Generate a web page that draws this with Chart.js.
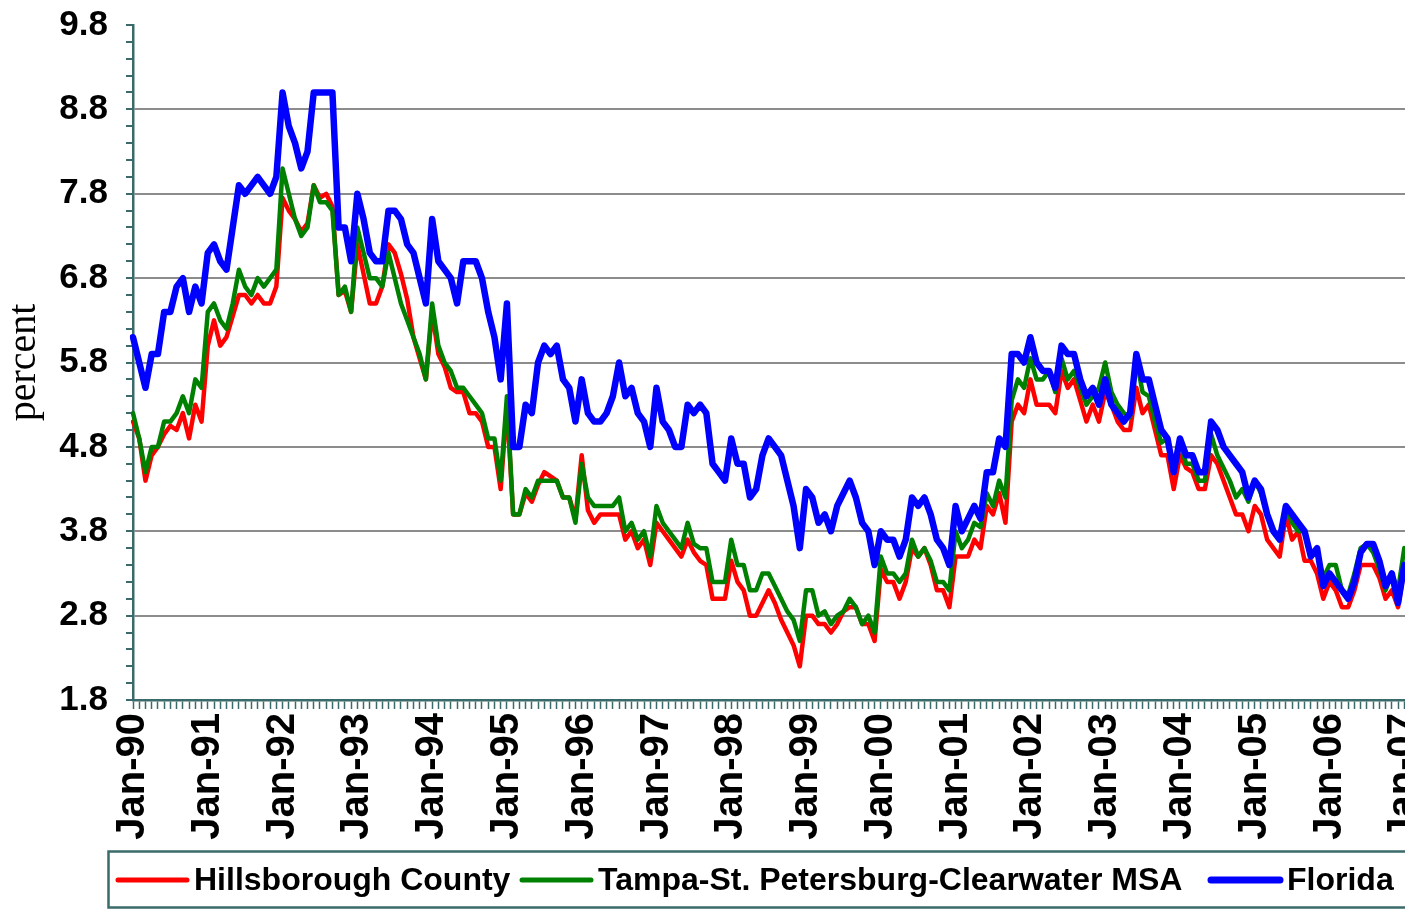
<!DOCTYPE html>
<html>
<head>
<meta charset="utf-8">
<script src="https://cdn.jsdelivr.net/npm/chart.js@4.4.1/dist/chart.umd.min.js"></script>
<style>
  html, body { margin: 0; padding: 0; background: #fff; overflow: hidden; }
  #wrap { width: 1405px; height: 910px; overflow: hidden; }
</style>
</head>
<body>
<div id="wrap"><canvas id="myChart" width="1504" height="910"></canvas></div>
<script>
// monthly unemployment rate, Jan-90 onward
var hillsborough = [
  5.1, 4.9, 4.4, 4.7, 4.8, 4.95, 5.05, 5.0, 5.2, 4.9, 5.3, 5.1,
  6.0, 6.3, 6.0, 6.1, 6.35, 6.6, 6.6, 6.5, 6.6, 6.5, 6.5, 6.7,
  7.75, 7.6, 7.5, 7.35, 7.45, 7.9, 7.75, 7.8, 7.65, 6.6, 6.65, 6.4,
  7.2, 6.85, 6.5, 6.5, 6.7, 7.2, 7.1, 6.85, 6.55, 6.1, 5.85, 5.6,
  6.4, 5.9, 5.75, 5.5, 5.45, 5.45, 5.2, 5.2, 5.1, 4.8, 4.8, 4.3,
  5.3, 4.0, 4.0, 4.25, 4.15, 4.35, 4.5, 4.45, 4.4, 4.2, 4.2, 3.95,
  4.7, 4.05, 3.9, 4.0, 4.0, 4.0, 4.0, 3.7, 3.8, 3.6, 3.7, 3.4,
  3.9, 3.8, 3.7, 3.6, 3.5, 3.7, 3.55, 3.45, 3.4, 3.0, 3.0, 3.0,
  3.45, 3.2, 3.1, 2.8, 2.8, 2.95, 3.1, 2.95, 2.75, 2.6, 2.45, 2.2,
  2.8, 2.8, 2.7, 2.7, 2.6, 2.7, 2.85, 2.9, 2.9, 2.7, 2.7, 2.5,
  3.35, 3.2, 3.2, 3.0, 3.2, 3.6, 3.5, 3.6, 3.4, 3.1, 3.1, 2.9,
  3.5, 3.5, 3.5, 3.7, 3.6, 4.1, 4.0, 4.25, 3.9, 5.1, 5.3, 5.2,
  5.6, 5.3, 5.3, 5.3, 5.2, 5.7, 5.5, 5.6, 5.35, 5.1, 5.3, 5.1,
  5.45, 5.3, 5.1, 5.0, 5.0, 5.5, 5.2, 5.3, 5.0, 4.7, 4.7, 4.3,
  4.7, 4.55, 4.5, 4.3, 4.3, 4.7, 4.6, 4.4, 4.2, 4.0, 4.0, 3.8,
  4.1, 4.0, 3.7, 3.6, 3.5, 4.0, 3.7, 3.8, 3.45, 3.45, 3.3, 3.0,
  3.2, 3.1, 2.9, 2.9, 3.1, 3.4, 3.4, 3.4, 3.25, 3.0, 3.1, 2.9,
  3.35, 3.2
];
var tampaMsa = [
  5.2, 4.9, 4.5, 4.8, 4.8, 5.1, 5.1, 5.2, 5.4, 5.2, 5.6, 5.5,
  6.4, 6.5, 6.3, 6.2, 6.5, 6.9, 6.7, 6.6, 6.8, 6.7, 6.8, 6.9,
  8.1, 7.8, 7.5, 7.3, 7.4, 7.9, 7.7, 7.7, 7.6, 6.6, 6.7, 6.4,
  7.4, 7.1, 6.8, 6.8, 6.7, 7.1, 6.8, 6.5, 6.3, 6.1, 5.9, 5.6,
  6.5, 6.0, 5.8, 5.7, 5.5, 5.5, 5.4, 5.3, 5.2, 4.9, 4.9, 4.4,
  5.4, 4.0, 4.0, 4.3, 4.2, 4.4, 4.4, 4.4, 4.4, 4.2, 4.2, 3.9,
  4.6, 4.2, 4.1, 4.1, 4.1, 4.1, 4.2, 3.8, 3.9, 3.7, 3.8, 3.5,
  4.1, 3.9, 3.8, 3.7, 3.6, 3.9, 3.65, 3.6, 3.6, 3.2, 3.2, 3.2,
  3.7, 3.4, 3.4, 3.1, 3.1, 3.3, 3.3, 3.15, 3.0, 2.85, 2.75, 2.5,
  3.1, 3.1, 2.8, 2.85, 2.7, 2.8, 2.85, 3.0, 2.9, 2.7, 2.8, 2.6,
  3.5, 3.3, 3.3, 3.2, 3.3, 3.7, 3.5, 3.6, 3.45, 3.2, 3.2, 3.1,
  3.8, 3.6, 3.7, 3.9, 3.85, 4.25, 4.1, 4.4, 4.2, 5.35, 5.6, 5.5,
  5.85, 5.6, 5.6, 5.7, 5.45, 5.85, 5.6, 5.7, 5.5, 5.3, 5.4, 5.5,
  5.8, 5.45, 5.3, 5.2, 5.15, 5.85, 5.45, 5.4, 5.1, 4.85, 4.9, 4.55,
  4.85, 4.6, 4.6, 4.4, 4.4, 4.95, 4.7, 4.55, 4.4, 4.2, 4.3, 4.15,
  4.4, 4.25, 4.0, 3.8, 3.7, 4.1, 3.9, 3.8, 3.8, 3.5, 3.55, 3.25,
  3.4, 3.4, 3.1, 3.05, 3.3, 3.6, 3.65, 3.55, 3.35, 3.1, 3.3, 3.1,
  3.6, 3.4
];
var florida = [
  6.1, 5.8, 5.5, 5.9, 5.9, 6.4, 6.4, 6.7, 6.8, 6.4, 6.7, 6.5,
  7.1, 7.2, 7.0, 6.9, 7.4, 7.9, 7.8, 7.9, 8.0, 7.9, 7.8, 8.0,
  9.0, 8.6, 8.4, 8.1, 8.3, 9.0, 9.0, 9.0, 9.0, 7.4, 7.4, 7.0,
  7.8, 7.5, 7.1, 7.0, 7.0, 7.6, 7.6, 7.5, 7.2, 7.1, 6.8, 6.5,
  7.5, 7.0, 6.9, 6.8, 6.5, 7.0, 7.0, 7.0, 6.8, 6.4, 6.1, 5.6,
  6.5, 4.8, 4.8, 5.3, 5.2, 5.8, 6.0, 5.9, 6.0, 5.6, 5.5, 5.1,
  5.6, 5.2, 5.1, 5.1, 5.2, 5.4, 5.8, 5.4, 5.5, 5.2, 5.1, 4.8,
  5.5, 5.1, 5.0, 4.8, 4.8, 5.3, 5.2, 5.3, 5.2, 4.6, 4.5, 4.4,
  4.9, 4.6, 4.6, 4.2, 4.3, 4.7, 4.9, 4.8, 4.7, 4.4, 4.1, 3.6,
  4.3, 4.2, 3.9, 4.0, 3.8, 4.1, 4.25, 4.4, 4.2, 3.9, 3.8, 3.4,
  3.8, 3.7, 3.7, 3.5, 3.7, 4.2, 4.1, 4.2, 4.0, 3.7, 3.6, 3.4,
  4.1, 3.8, 3.95, 4.1, 3.95, 4.5, 4.5, 4.9, 4.8, 5.9, 5.9, 5.8,
  6.1, 5.8, 5.7, 5.7, 5.5, 6.0, 5.9, 5.9, 5.6, 5.4, 5.5, 5.3,
  5.6, 5.3, 5.2, 5.1, 5.2, 5.9, 5.6, 5.6, 5.3, 5.0, 4.9, 4.5,
  4.9, 4.7, 4.7, 4.5, 4.5, 5.1, 5.0, 4.8, 4.7, 4.6, 4.5, 4.2,
  4.4, 4.3, 4.0, 3.8, 3.7, 4.1, 4.0, 3.9, 3.8, 3.5, 3.6, 3.15,
  3.3, 3.2, 3.1, 3.0, 3.2, 3.55, 3.65, 3.65, 3.45, 3.15, 3.3, 2.95,
  3.4, 3.2
];
var years = ['90','91','92','93','94','95','96','97','98','99','00','01','02','03','04','05','06','07','08'];
var monthNames = ['Jan','Feb','Mar','Apr','May','Jun','Jul','Aug','Sep','Oct','Nov','Dec'];
var seriesNames = ['Hillsborough County', 'Tampa-St. Petersburg-Clearwater MSA', 'Florida'];

var axisColor = '#3b6a6a';
var months = [];
years.forEach(function(y) {
  monthNames.forEach(function(m) { months.push(m + '-' + y); });
});
months = months.slice(0, 221);

// legend drawn in an Excel-like framed box under the axis
var legendBox = {
  id: 'legendBox',
  afterDraw: function(chart) {
    var ctx = chart.ctx;
    var xs = [118, 522, 1211];
    ctx.save();
    ctx.strokeStyle = axisColor;
    ctx.lineWidth = 2.5;
    ctx.strokeRect(108.5, 851.5, 1480, 56);
    ctx.font = 'bold 32px "Liberation Sans", Arial, sans-serif';
    ctx.textBaseline = 'middle';
    ctx.fillStyle = '#000';
    chart.data.datasets.forEach(function(ds, i) {
      ctx.beginPath();
      ctx.strokeStyle = ds.borderColor;
      ctx.lineWidth = ds.borderWidth + 0.5;
      ctx.lineCap = 'round';
      ctx.moveTo(xs[i], 880);
      ctx.lineTo(xs[i] + 69, 880);
      ctx.stroke();
      ctx.fillText(ds.label, xs[i] + 76, 881);
    });
    ctx.restore();
  }
};

function isMajor(v) {
  return Math.round((v - 1.8) * 10) % 10 === 0;
}

var ctx = document.getElementById('myChart');
var chart = new Chart(ctx, {
  type: 'line',
  data: {
    labels: months,
    datasets: [{
      label: seriesNames[0],
      data: hillsborough,
      borderColor: '#ff0000',
      borderWidth: 4.5,
      order: 3
    }, {
      label: seriesNames[1],
      data: tampaMsa,
      borderColor: '#008000',
      borderWidth: 4.5,
      order: 2
    }, {
      label: seriesNames[2],
      data: florida,
      borderColor: '#0000ff',
      borderWidth: 6.5,
      order: 1
    }]
  },
  options: {
    responsive: false,
    animation: false,
    layout: { padding: { top: 25, left: 0, right: 0, bottom: 0 } },
    elements: {
      point: { radius: 0 },
      line: { tension: 0, fill: false, borderJoinStyle: 'round', borderCapStyle: 'round' }
    },
    plugins: {
      legend: { display: false },
      tooltip: { enabled: false }
    },
    scales: {
      x: {
        type: 'category',
        offset: false,
        grid: { drawOnChartArea: false, tickLength: 9, tickColor: axisColor, tickWidth: 1.5 },
        border: { color: axisColor, width: 2.5 },
        ticks: {
          autoSkip: false,
          maxRotation: 90,
          minRotation: 90,
          padding: 4,
          color: '#000',
          font: { family: '"Liberation Sans", Arial, sans-serif', size: 40, weight: 'bold' },
          callback: function(val) {
            var l = this.getLabelForValue(val);
            return l.indexOf('Jan') === 0 ? l : '';
          }
        },
        afterFit: function(s) {
          s.height = 210;
          s.paddingLeft = 0;
          s.paddingRight = 0;
        }
      },
      y: {
        min: 1.8,
        max: 9.8,
        grid: {
          lineWidth: 2,
          tickLength: 7,
          tickColor: axisColor,
          color: function(c) {
            var v = c.tick && c.tick.value;
            if (v === undefined || v < 2 || v > 9.7) return 'rgba(0,0,0,0)';
            return isMajor(v) ? '#8c8c8c' : 'rgba(0,0,0,0)';
          }
        },
        border: { color: axisColor, width: 2.5 },
        title: {
          display: true,
          text: 'percent',
          color: '#000',
          padding: 0,
          font: { family: '"Liberation Serif", "Times New Roman", serif', size: 40, weight: 'normal' }
        },
        ticks: {
          stepSize: 0.2,
          autoSkip: false,
          padding: 18,
          color: '#000',
          font: { family: '"Liberation Sans", Arial, sans-serif', size: 35, weight: 'bold' },
          callback: function(v) {
            return isMajor(v) ? v.toFixed(1) : '';
          }
        },
        afterFit: function(s) {
          s.width = 133;
          s.paddingTop = 0;
          s.paddingBottom = 0;
        }
      }
    }
  },
  plugins: [legendBox]
});
</script>
</body>
</html>
